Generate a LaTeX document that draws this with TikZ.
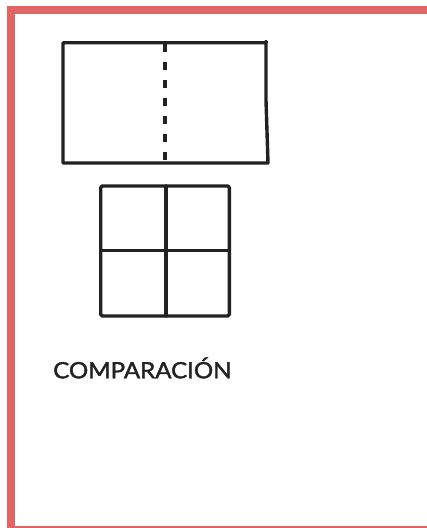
\documentclass[tikz,border=0pt]{standalone}
\usepackage{fontspec}
\setmainfont{Lato}
\definecolor{framered}{HTML}{E06666}
\definecolor{ink}{HTML}{222222}
\begin{document}
\begin{tikzpicture}[x=1pt,y=-1pt,
  sketch/.style={draw=ink,line width=3.4pt,line cap=round,line join=round},
  dashline/.style={draw=ink,line width=3.6pt,dash pattern=on 8pt off 10pt},
  label/.style={font=\fontsize{22.5}{26}\selectfont\addfontfeatures{FakeBold=1.6},text=ink,inner sep=0pt,anchor=base west}]
\useasboundingbox (0,0) rectangle (427,528);
\fill[white] (0,0) rectangle (427,528);
% frame
\fill[framered] (7,6) rectangle (427,14);
\fill[framered] (7,6) rectangle (15,528);
\fill[framered] (7,525.7) rectangle (427,528);
% large rectangle with dashed fold
\draw[sketch] (63,42.7) -- (266,42.7) -- (266,100) -- (268,163) -- (63,163) -- cycle;
\fill[ink] (266,42) circle (2pt);
\draw[dashline] (165,44) -- (165,163);
% 2x2 grid
\draw[sketch,rounded corners=1.5pt] (100.7,186) rectangle (229.3,316);
\draw[sketch] (166,186) -- (166,316);
\draw[sketch] (100.7,250.7) -- (229.3,250.7);
\node[label,xscale=1.07] (cmp) at (53,378.3) {COMPARACIÓN};
\end{tikzpicture}
\end{document}
